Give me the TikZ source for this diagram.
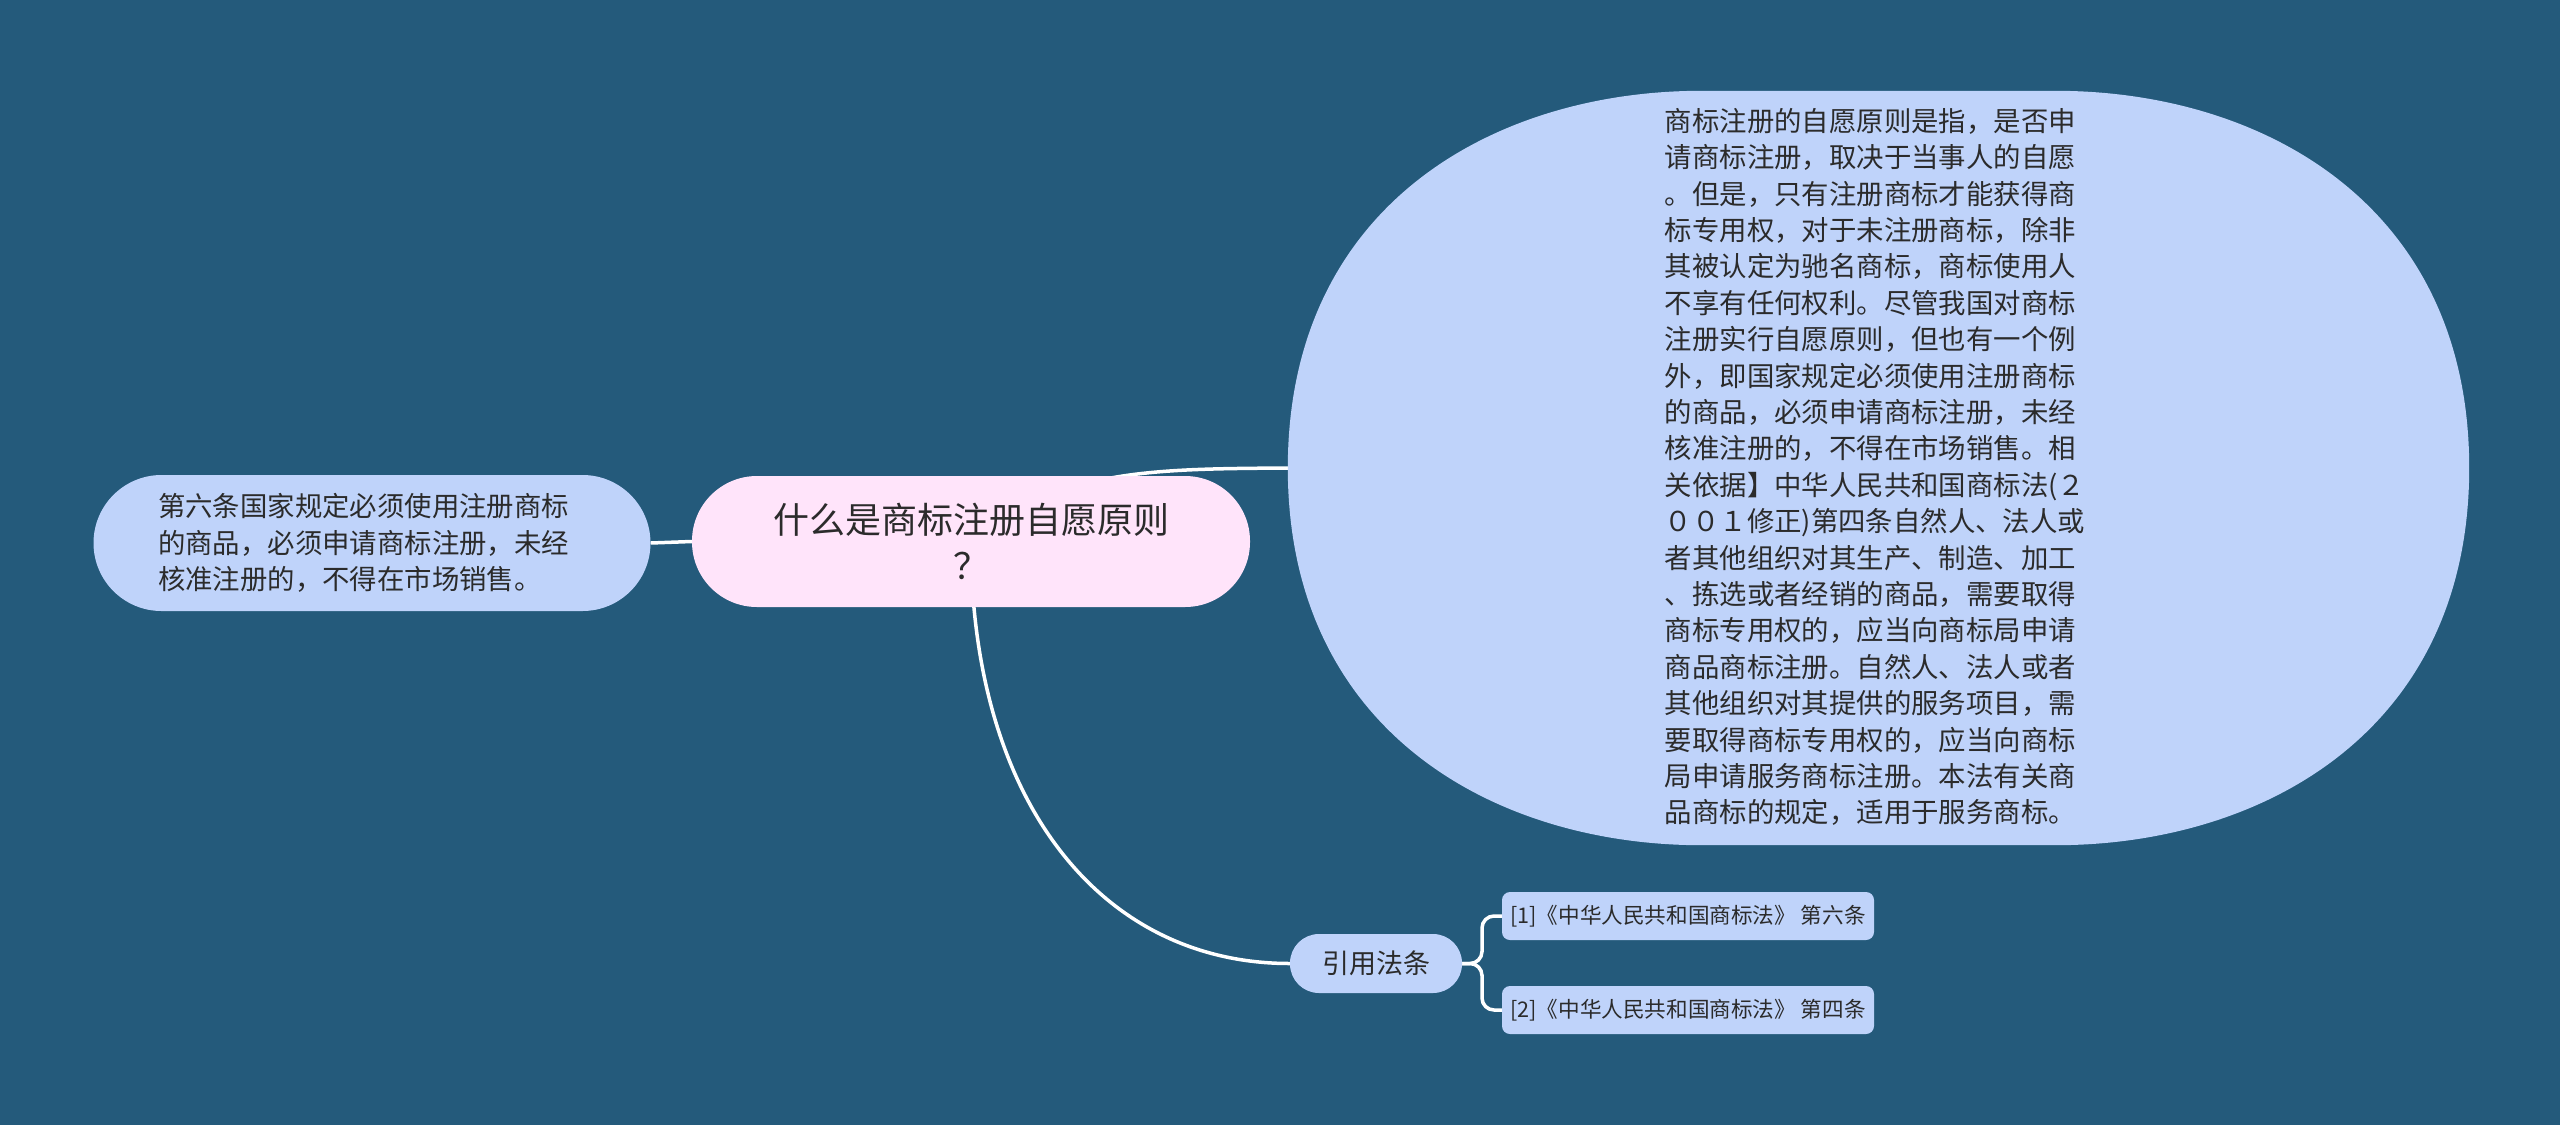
\documentclass[tikz,border=0pt]{standalone}
\usepackage{fontspec}
\newfontfamily\cjk{Noto Sans CJK SC}
\usetikzlibrary{calc}
\definecolor{bgblue}{HTML}{245A7B}
\definecolor{pinkfill}{HTML}{FFE4FA}
\definecolor{bluefill}{HTML}{BFD3FA}
\definecolor{txt}{HTML}{2B2B2B}
\pgfdeclarelayer{bgl}
\pgfdeclarelayer{lines}
\pgfsetlayers{bgl,lines,main}
\tikzset{
  centernode/.style={fill=pinkfill, rounded corners=65pt, minimum width=558pt, minimum height=131pt,
    inner sep=0pt, align=center, text=txt, font=\cjk\fontsize{36}{46}\selectfont},
  leftnode/.style={fill=bluefill, rounded corners=68pt, minimum width=557pt, minimum height=136pt,
    inner sep=0pt, text width=428pt, align=left, text=txt, font=\cjk\fontsize{27.4}{36.4}\selectfont},
  bignode/.style={minimum width=1181pt, minimum height=754pt, inner sep=0pt},
  bigtext/.style={inner sep=0pt, align=left, text=txt, font=\cjk\fontsize{27.4}{36.4}\selectfont},
  quotenode/.style={fill=bluefill, rounded corners=29pt, minimum width=172pt, minimum height=59pt,
    inner sep=0pt, text=txt, font=\cjk\fontsize{27}{32}\selectfont},
  refnode/.style={fill=bluefill, rounded corners=8pt, minimum width=372pt, minimum height=48pt,
    inner sep=0pt, text=txt, font=\cjk\fontsize{21.6}{26}\selectfont},
  link/.style={draw=white, line width=3.5pt},
}
\begin{document}
\begin{tikzpicture}[x=1pt,y=-1pt]
\begin{pgfonlayer}{bgl}
\fill[bgblue] (0,0) rectangle (2560,1125);
\end{pgfonlayer}
\useasboundingbox (0,0) rectangle (2560,1125);

\node[centernode] (c) at (971,541.5) {什么是商标注册自愿原则\\？};
\node[leftnode] (l) at (372,543) {第六条国家规定必须使用注册商标\\的商品，必须申请商标注册，未经\\核准注册的，不得在市场销售。};
\node[bignode] (e) at (1878.5,468) {};
\fill[bluefill] ($(e.north)+(-177,0)$) -- ($(e.north)+(177,0)$)
  .. controls +(206,0) and +(0,-264) .. (e.east)
  .. controls +(0,264) and +(206,0) .. ($(e.south)+(177,0)$)
  -- ($(e.south)+(-177,0)$)
  .. controls +(-206,0) and +(0,264) .. (e.west)
  .. controls +(0,-264) and +(-206,0) .. ($(e.north)+(-177,0)$) -- cycle;
\node[bigtext] (et) at (1875,467) {商标注册的自愿原则是指，是否申\\请商标注册，取决于当事人的自愿\\。但是，只有注册商标才能获得商\\标专用权，对于未注册商标，除非\\其被认定为驰名商标，商标使用人\\不享有任何权利。尽管我国对商标\\注册实行自愿原则，但也有一个例\\外，即国家规定必须使用注册商标\\的商品，必须申请商标注册，未经\\核准注册的，不得在市场销售。相\\关依据】中华人民共和国商标法(２\\００１修正)第四条自然人、法人或\\者其他组织对其生产、制造、加工\\、拣选或者经销的商品，需要取得\\商标专用权的，应当向商标局申请\\商品商标注册。自然人、法人或者\\其他组织对其提供的服务项目，需\\要取得商标专用权的，应当向商标\\局申请服务商标注册。本法有关商\\品商标的规定，适用于服务商标。};
\node[quotenode] (q) at (1376,963.5) {引用法条};
\node[refnode] (r1) at (1688,916) {[1]《中华人民共和国商标法》 第六条};
\node[refnode] (r2) at (1688,1010) {[2]《中华人民共和国商标法》 第四条};

\begin{pgfonlayer}{lines}
\draw[link] (l.east) -- (c.west);
\draw[link] (c.center) .. controls (1060,469) and (1150,469) .. (e.west);
\draw[link] (c.center) .. controls (971,800) and (1100,963.5) .. (q.west);
\coordinate (mid1) at ($(q.east)!0.5!(r1.west)$);
\coordinate (mid2) at ($(q.east)!0.5!(r2.west)$);
\draw[link, rounded corners=12pt] (q.east) -| (mid1) |- (r1.west);
\draw[link, rounded corners=12pt] (q.east) -| (mid2) |- (r2.west);
\end{pgfonlayer}
\end{tikzpicture}
\end{document}
